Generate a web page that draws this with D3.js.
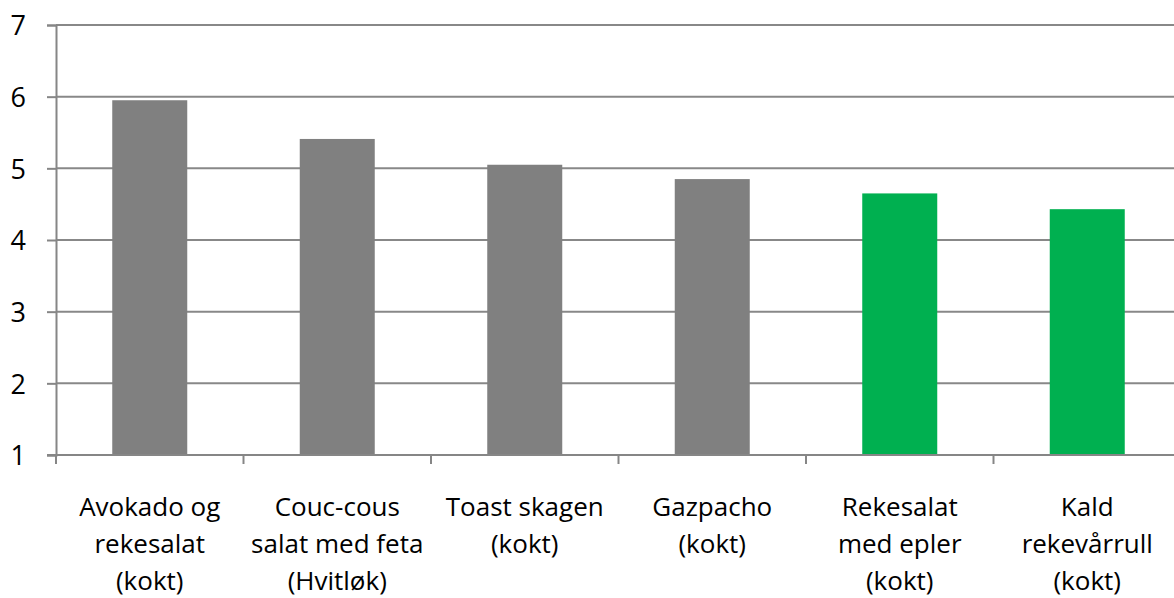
<!DOCTYPE html>
<html>
<head>
<meta charset="utf-8">
<script src="https://cdn.jsdelivr.net/npm/d3@7"></script>
<style>
  body { margin: 0; background: #fff; }
  text { font-family: "Open Sans", sans-serif; fill: #000; }
</style>
</head>
<body>
<div id="chart"></div>
<script>
// data
const categories = [
  ['Avokado og', 'rekesalat', '(kokt)'],
  ['Couc-cous', 'salat med feta', '(Hvitløk)'],
  ['Toast skagen', '(kokt)'],
  ['Gazpacho', '(kokt)'],
  ['Rekesalat', 'med epler', '(kokt)'],
  ['Kald', 'rekevårrull', '(kokt)']
];
const values = [5.95, 5.41, 5.05, 4.85, 4.65, 4.43];
const barColors = ['#808080', '#808080', '#808080', '#808080', '#00b050', '#00b050'];
const yTicks = [1, 2, 3, 4, 5, 6, 7];

const width = 1174, height = 598;
const margin = { left: 56, top: 25, right: -7, bottom: 143 };

const svg = d3.select('#chart').append('svg')
  .attr('width', width)
  .attr('height', height);

const names = categories.map(c => c.join(' '));

const x = d3.scaleBand()
  .domain(names)
  .range([margin.left, width - margin.right])
  .paddingInner(0.6)
  .paddingOuter(0.3);

const y = d3.scaleLinear()
  .domain([1, 7])
  .range([height - margin.bottom, margin.top]);

// gridlines
svg.append('g')
  .selectAll('line')
  .data(yTicks.slice(1))
  .enter()
  .append('line')
  .attr('x1', margin.left)
  .attr('x2', width)
  .attr('y1', d => y(d))
  .attr('y2', d => y(d))
  .attr('stroke', '#888')
  .attr('stroke-width', 2);

// bars
svg.append('g')
  .selectAll('rect')
  .data(values)
  .enter()
  .append('rect')
  .attr('x', (d, i) => x(names[i]))
  .attr('y', d => y(d))
  .attr('width', x.bandwidth())
  .attr('height', d => y(1) - y(d))
  .style('fill', (d, i) => barColors[i]);

// y axis
const yAxis = d3.axisLeft(y)
  .tickValues(yTicks)
  .tickFormat(d3.format('d'))
  .tickSize(9)
  .tickPadding(21);

const gy = svg.append('g')
  .attr('transform', 'translate(' + margin.left + ',0)')
  .call(yAxis);
gy.select('.domain').attr('stroke', '#868686').attr('stroke-width', 2);
gy.selectAll('.tick line').attr('stroke', '#868686').attr('stroke-width', 2);
gy.selectAll('.tick text')
  .style('font-size', '27px')
  .attr('dy', '0.36em');

// x axis: ticks on band boundaries
const bounds = names.map(n => x(n) - x.step() * x.paddingInner() / 2);
bounds.push(width - margin.right);

const gx = svg.append('g');
gx.append('line')
  .attr('x1', margin.left - 9)
  .attr('x2', width)
  .attr('y1', y(1))
  .attr('y2', y(1))
  .attr('stroke', '#868686')
  .attr('stroke-width', 2);
gx.selectAll('line.tk')
  .data(bounds)
  .enter()
  .append('line')
  .attr('class', 'tk')
  .attr('x1', d => d)
  .attr('x2', d => d)
  .attr('y1', y(1))
  .attr('y2', y(1) + 9)
  .attr('stroke', '#868686')
  .attr('stroke-width', 2);

// category labels
const labels = gx.selectAll('text')
  .data(categories)
  .enter()
  .append('text')
  .attr('text-anchor', 'middle')
  .style('font-size', '26px')
  .attr('x', (d, i) => x(names[i]) + x.bandwidth() / 2)
  .attr('y', y(1) + 61);

labels.selectAll('tspan')
  .data(d => d)
  .enter()
  .append('tspan')
  .attr('x', function () { return this.parentNode.getAttribute('x'); })
  .attr('dy', (d, i) => i === 0 ? 0 : 37)
  .text(d => d);
</script>
</body>
</html>
